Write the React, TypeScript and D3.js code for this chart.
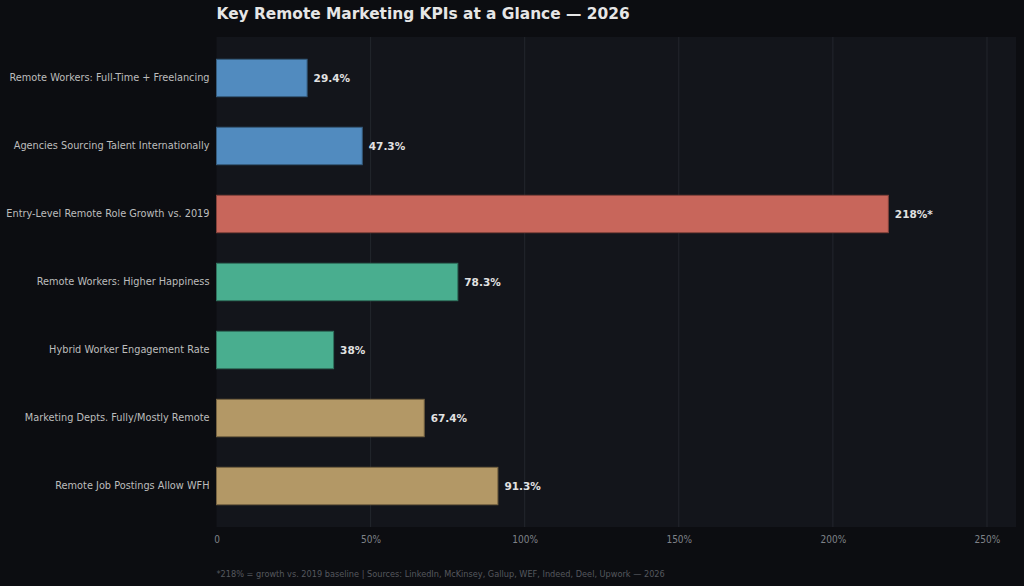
import React, { useEffect, useRef } from "react";
import * as d3 from "d3";

const categories = [
  "Remote Workers: Full-Time + Freelancing",
  "Agencies Sourcing Talent Internationally",
  "Entry-Level Remote Role Growth vs. 2019",
  "Remote Workers: Higher Happiness",
  "Hybrid Worker Engagement Rate",
  "Marketing Depts. Fully/Mostly Remote",
  "Remote Job Postings Allow WFH",
];
const values = [29.4, 47.3, 218, 78.3, 38, 67.4, 91.3];
const valueLabels = ["29.4%", "47.3%", "218%*", "78.3%", "38%", "67.4%", "91.3%"];
const groups = ["talent", "talent", "growth", "wellbeing", "wellbeing", "adoption", "adoption"];
const xTicks = [0, 50, 100, 150, 200, 250];

const fills: Record<string, string> = {
  talent: "#518bbf",
  growth: "#c8665b",
  wellbeing: "#49ae8f",
  adoption: "#b39866",
};

const App = () => {
  const ref = useRef<SVGSVGElement>(null);

  useEffect(() => {
    const svg = d3.select(ref.current);
    svg.selectAll("*").remove();

    const W = 1024;
    const H = 586;
    const left = 216.5;
    const right = 1016;
    const top = 37;
    const bottom = 527;

    svg.append("rect").attr("width", W).attr("height", H).attr("fill", "#0c0d11");
    svg
      .append("rect")
      .attr("x", left)
      .attr("y", top)
      .attr("width", right - left)
      .attr("height", bottom - top)
      .attr("fill", "#13151b");

    const x = d3.scaleLinear().domain([0, 218 * 1.19]).range([left, right]);
    // bars of height 0.55 with 5% padding, like a matplotlib barh
    const pad = 0.05 * (categories.length - 1 + 0.55);
    const y = d3
      .scaleLinear()
      .domain([-0.275 - pad, categories.length - 1 + 0.275 + pad])
      .range([top, bottom]);
    const barH = y(0.55) - y(0);

    // vertical grid
    svg
      .append("g")
      .selectAll("line")
      .data(xTicks.slice(1))
      .join("line")
      .attr("x1", (d) => x(d))
      .attr("x2", (d) => x(d))
      .attr("y1", top)
      .attr("y2", bottom)
      .attr("stroke", "#23262d")
      .attr("stroke-width", 1);

    svg
      .append("g")
      .selectAll("rect")
      .data(values)
      .join("rect")
      .attr("x", x(0))
      .attr("y", (_, i) => y(i) - barH / 2)
      .attr("width", (d) => x(d) - x(0))
      .attr("height", barH)
      .attr("fill", (_, i) => fills[groups[i]])
      .attr("stroke", (_, i) => d3.color(fills[groups[i]])!.darker(1.2).formatHex())
      .attr("stroke-width", 1);

    svg
      .append("g")
      .selectAll("text")
      .data(values)
      .join("text")
      .attr("x", (d) => x(d) + 6.5)
      .attr("y", (_, i) => y(i))
      .attr("dy", "0.35em")
      .attr("fill", "#e2e2e2")
      .attr("font-family", "DejaVu Sans")
      .attr("font-weight", "bold")
      .attr("font-size", 10.5)
      .text((_, i) => valueLabels[i]);

    svg
      .append("g")
      .selectAll("text")
      .data(categories)
      .join("text")
      .attr("x", left - 7)
      .attr("y", (_, i) => y(i))
      .attr("dy", "0.35em")
      .attr("text-anchor", "end")
      .attr("fill", "#bdbdbd")
      .attr("font-family", "DejaVu Sans")
      .attr("font-size", 9.75)
      .text((d) => d);

    const xAxis = d3
      .axisBottom(x)
      .tickValues(xTicks)
      .tickSize(0)
      .tickFormat((d) => (d === 0 ? "0" : `${d}%`));
    const ax = svg.append("g").attr("transform", `translate(0,${bottom})`).call(xAxis);
    ax.select(".domain").remove();
    ax.selectAll("text")
      .attr("fill", "#7f8288")
      .attr("font-family", "DejaVu Sans Condensed, DejaVu Sans")
      .attr("font-size", 10)
      .attr("dy", "1.25em");

    svg
      .append("text")
      .attr("x", left)
      .attr("y", 19)
      .attr("fill", "#e6e6e6")
      .attr("font-family", "DejaVu Sans")
      .attr("font-weight", "bold")
      .attr("font-size", 15.4)
      .text("Key Remote Marketing KPIs at a Glance — 2026");

    svg
      .append("text")
      .attr("x", left)
      .attr("y", 577)
      .attr("fill", "#55585e")
      .attr("font-family", "DejaVu Sans Condensed, DejaVu Sans")
      .attr("font-size", 9.1)
      .text("*218% = growth vs. 2019 baseline | Sources: LinkedIn, McKinsey, Gallup, WEF, Indeed, Deel, Upwork — 2026");
  }, []);

  return (
    <svg
      ref={ref}
      width={1024}
      height={586}
      viewBox="0 0 1024 586"
      style={{ position: "absolute", left: 0, top: 0, display: "block" }}
    />
  );
};

export default App;
